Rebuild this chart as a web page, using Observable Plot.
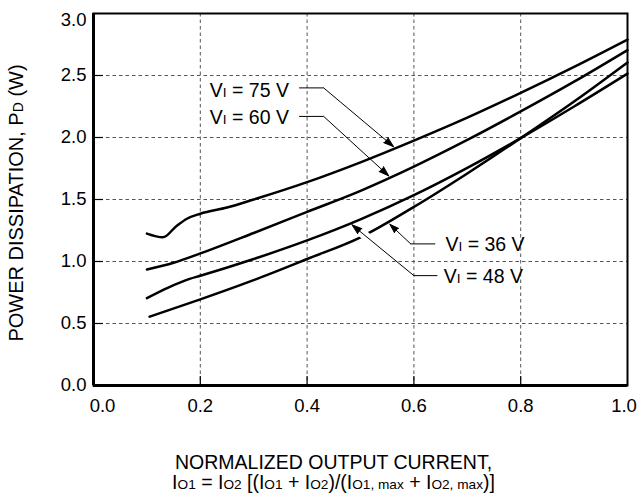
<!DOCTYPE html>
<html><head><meta charset="utf-8">
<script src="https://cdn.jsdelivr.net/npm/d3@7"></script>
<script src="https://cdn.jsdelivr.net/npm/@observablehq/plot@0.6"></script>
<style>body{margin:0;background:#fff} #chart svg text{white-space:pre}</style>
</head><body><div id="chart"></div>
<script>
// ---- data ----
const xTicks = [0, 0.2, 0.4, 0.6, 0.8, 1.0];
const yTicks = [0, 0.5, 1.0, 1.5, 2.0, 2.5, 3.0];
const seriesNames = ["V{I} = 36 V", "V{I} = 48 V", "V{I} = 60 V", "V{I} = 75 V"];

const current36 = [0.105, 0.2, 0.3, 0.4, 0.5, 0.6, 0.7, 0.8, 0.9, 1.0];
const power36   = [0.555, 0.695, 0.85, 1.02, 1.195, 1.44, 1.71, 1.995, 2.29, 2.605];
const current48 = [0.10, 0.14, 0.18, 0.2, 0.3, 0.4, 0.5, 0.6, 0.7, 0.8, 0.9, 1.0];
const power48   = [0.705, 0.79, 0.86, 0.885, 1.02, 1.17, 1.34, 1.535, 1.755, 1.995, 2.25, 2.515];
const current60 = [0.10, 0.15, 0.2, 0.3, 0.4, 0.5, 0.6, 0.7, 0.8, 0.9, 1.0];
const power60   = [0.935, 0.99, 1.065, 1.23, 1.40, 1.57, 1.765, 1.98, 2.21, 2.45, 2.705];
const current75 = [0.10, 0.13, 0.155, 0.175, 0.2, 0.25, 0.3, 0.4, 0.5, 0.6, 0.7, 0.8, 0.9, 1.0];
const power75   = [1.225, 1.195, 1.285, 1.345, 1.385, 1.435, 1.50, 1.64, 1.80, 1.975, 2.16, 2.36, 2.57, 2.79];

// leader annotations
const leaderNames   = ["V{I} = 75 V", "V{I} = 60 V", "V{I} = 36 V", "V{I} = 48 V"];
const labelX        = [0.366, 0.366, 0.659, 0.656];
const labelY        = [2.38, 2.157, 1.134, 0.876];
const leaderStartX  = [0.385, 0.385, 0.640, 0.644];
const elbowX        = [0.431, 0.431, 0.594, 0.600];
const elbowY        = [2.40, 2.17, 1.142, 0.886];
const tipX          = [0.562, 0.553, 0.555, 0.484];
const tipY          = [1.926, 1.69, 1.30, 1.296];

const yTitle  = "POWER DISSIPATION, P{D} (W)";
const xTitle1 = "NORMALIZED OUTPUT CURRENT,";
const xTitle2 = "I{O1} = I{O2} [(I{O1} + I{O2})/(I{O1, max} + I{O2, max})]";

// ---- build tables ----
const rows = [];
[[seriesNames[0], current36, power36], [seriesNames[1], current48, power48],
 [seriesNames[2], current60, power60], [seriesNames[3], current75, power75]]
  .forEach(([s, xs, ys]) => xs.forEach((x, i) => rows.push({series: s, x, y: ys[i]})));

const leaders = leaderNames.map((name, i) => ({
  name, lx: labelX[i], ly: labelY[i], sx: leaderStartX[i],
  ex: elbowX[i], ey: elbowY[i], tx: tipX[i], ty: tipY[i]
}));
// white gap where the 48 V leader crosses the 36 V curve
const halo = leaders.filter(d => d.name === seriesNames[1]).map(d => ({
  x1: d.ex + (d.tx - d.ex) * 0.68, y1: d.ey + (d.ty - d.ey) * 0.68,
  x2: d.ex + (d.tx - d.ex) * 0.9,  y2: d.ey + (d.ty - d.ey) * 0.9
}));

const W = 639, H = 496, mL = 93, mR = 12, mT = 13, mB = 111;
const plotW = W - mL - mR, plotH = H - mT - mB;
const fmt = d3.format(".1f");
const gridStyle = {stroke: "#555", strokeWidth: 1, strokeDasharray: "3.5,3"};
const xMid = xTicks.filter(d => d > 0 && d < 1);
const tickLabelStyle = {text: d => fmt(d), frameAnchor: "bottom", lineAnchor: "middle", dy: 21, fontSize: 18.5};

const chart = Plot.plot({
  width: W, height: H,
  marginLeft: mL, marginRight: mR, marginTop: mT, marginBottom: mB,
  style: {fontFamily: "'Liberation Sans', Arial, Helvetica, sans-serif", fontSize: "18.5px", color: "black", background: "white"},
  x: {domain: [0, 1], axis: null},
  y: {domain: [0, 3], ticks: yTicks.filter(d => d < 3), tickFormat: fmt, tickSize: 0, tickPadding: 7, label: null},
  marks: [
    Plot.ruleX(xMid, gridStyle),
    Plot.ruleY(yTicks.filter(d => d > 0 && d < 3), gridStyle),
    Plot.tickX(xMid, {x: d => d, insetTop: plotH - 9, stroke: "black", strokeWidth: 1.2}),
    Plot.tickY(yTicks.filter(d => d > 0 && d < 3), {y: d => d, insetRight: plotW - 10, stroke: "black", strokeWidth: 1.2}),
    Plot.line(rows.filter(d => d.series === seriesNames[0]), {x: "x", y: "y", curve: "monotone-x", stroke: "black", strokeWidth: 2.5}),
    Plot.link(halo, {x1: "x1", y1: "y1", x2: "x2", y2: "y2", stroke: "white", strokeWidth: 9}),
    Plot.line(rows.filter(d => d.series !== seriesNames[0]), {x: "x", y: "y", z: "series", curve: "monotone-x", stroke: "black", strokeWidth: 2.5}),
    Plot.frame({stroke: "black", strokeWidth: 2}),
    Plot.ruleX([0], {stroke: "black", strokeWidth: 3}),
    Plot.ruleY([0], {stroke: "black", strokeWidth: 3}),
    Plot.link(leaders, {x1: "sx", y1: "ey", x2: "ex", y2: "ey", stroke: "black", strokeWidth: 1}),
    Plot.arrow(leaders, {x1: "ex", y1: "ey", x2: "tx", y2: "ty", stroke: "black", fill: "black", strokeWidth: 1, headLength: 16, headAngle: 36}),
    Plot.text(leaders.filter(d => d.lx < d.sx), {x: "lx", y: "ly", text: "name", textAnchor: "end", fontSize: 19.5}),
    Plot.text(leaders.filter(d => d.lx > d.sx), {x: "lx", y: "ly", text: "name", textAnchor: "start", fontSize: 19.5}),
    // x tick labels (end labels nudged inward as in the reference)
    Plot.text(xMid, {x: d => d, ...tickLabelStyle}),
    Plot.text(xTicks.filter(d => d === 0), {x: d => d, ...tickLabelStyle, dx: 9}),
    Plot.text(xTicks.filter(d => d === 1), {x: d => d, ...tickLabelStyle, dx: -3.5}),
    Plot.text(yTicks.filter(d => d === 3), {y: d => d, text: d => fmt(d), frameAnchor: "left", textAnchor: "end", lineAnchor: "middle", dx: -7, dy: 7, fontSize: 18.5}),
    Plot.text([yTitle], {text: d => d, frameAnchor: "left", textAnchor: "middle", lineAnchor: "middle", rotate: -90, dx: -77, dy: 3.5, fontSize: 20}),
    Plot.text([xTitle1], {text: d => d, frameAnchor: "bottom", textAnchor: "middle", lineAnchor: "middle", dx: -27, dy: 77.5, fontSize: 19.5}),
    Plot.text([xTitle2], {text: d => d, frameAnchor: "bottom", textAnchor: "middle", lineAnchor: "middle", dx: -27, dy: 97.5, fontSize: 19.5})
  ]
});

// render {…} segments as smaller (subscript-size) letters on the baseline
d3.select(chart).selectAll("text").each(function () {
  const t = this.textContent;
  if (!t.includes("{")) return;
  const sel = d3.select(this);
  sel.text(null);
  t.split(/(\{[^}]*\})/).forEach(p => {
    if (!p) return;
    if (p.startsWith("{")) sel.append("tspan").attr("font-size", "0.7em").text(p.slice(1, -1));
    else sel.append("tspan").text(p);
  });
});

document.getElementById("chart").appendChild(chart);
</script>
</body></html>
